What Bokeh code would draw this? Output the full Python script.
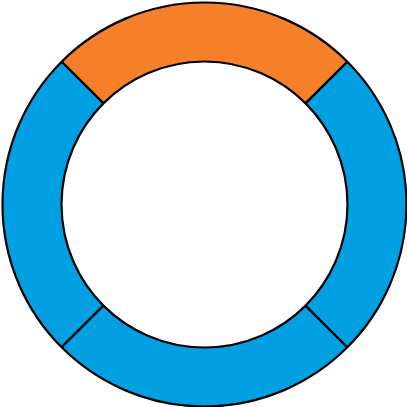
import math
from bokeh.plotting import figure
from bokeh.models import Range1d, ColumnDataSource
from bokeh.embed import file_html
from bokeh.resources import INLINE

categories = ["A", "B", "C", "D"]
values = [1, 1, 1, 1]
colors = ["#F6802A", "#00A0E2", "#00A0E2", "#00A0E2"]

total = sum(values)
offset = math.pi / 4
starts, ends = [], []
acc = 0.0
for v in values:
    starts.append(offset + acc / total * 2 * math.pi)
    acc += v
    ends.append(offset + acc / total * 2 * math.pi)

src = ColumnDataSource(dict(cat=categories, val=values, color=colors,
                            start=starts, end=ends))

p = figure(width=407, height=407, output_backend="svg", toolbar_location=None,
           x_range=Range1d(-204, 203), y_range=Range1d(-203, 204), min_border=0)
p.annular_wedge(x=0, y=0, inner_radius=143, outer_radius=202,
                start_angle="start", end_angle="end", fill_color="color",
                line_color="black", line_width=2.2, source=src)
p.axis.visible = False
p.grid.visible = False
p.outline_line_color = None
p.background_fill_color = "white"
p.border_fill_color = "white"

open("out.html", "w").write(file_html(p, INLINE))
